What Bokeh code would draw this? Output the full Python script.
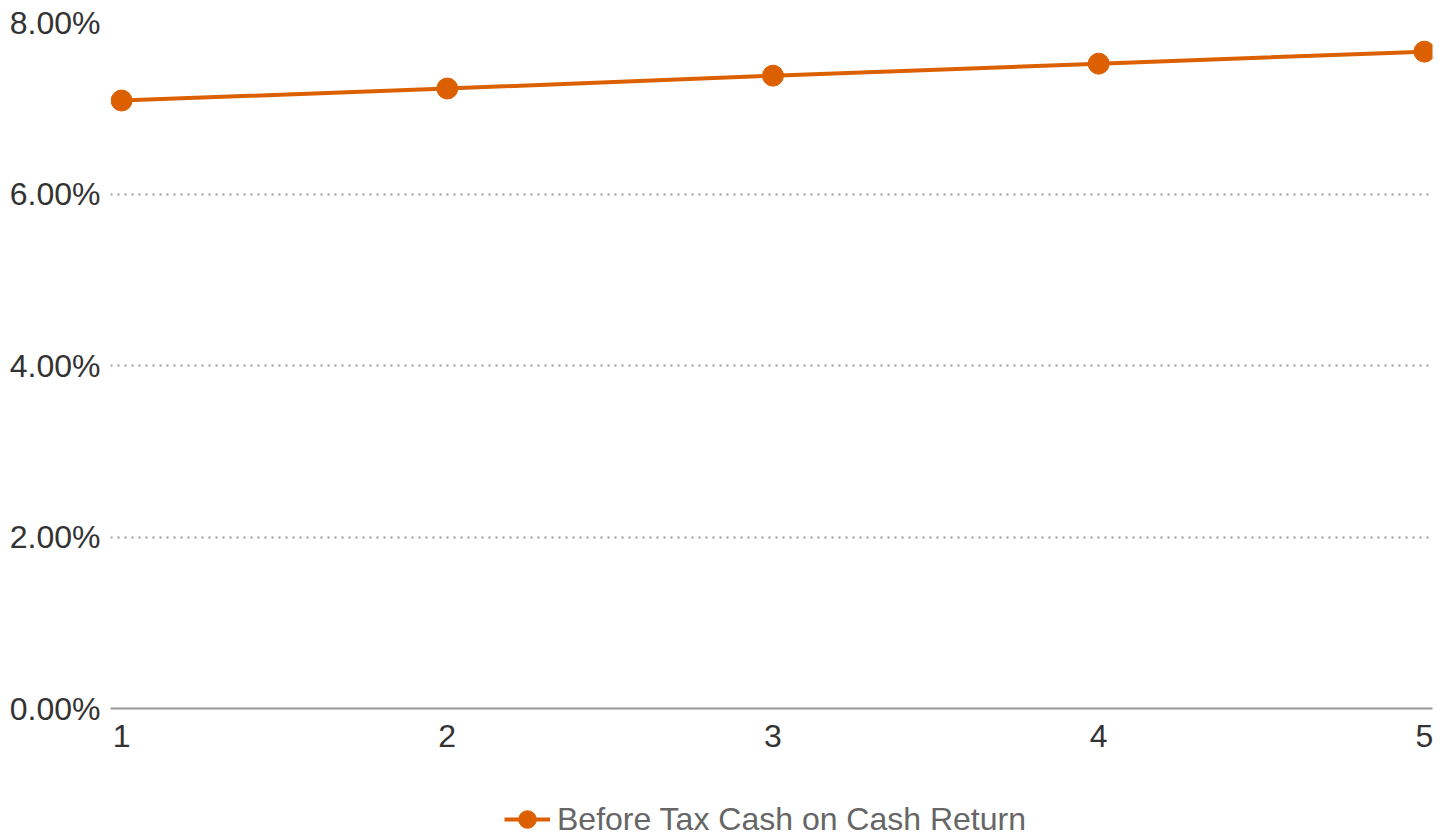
from bokeh.plotting import figure
from bokeh.layouts import column
from bokeh.models import Legend, LegendItem, NumeralTickFormatter, FixedTicker, Range1d
from bokeh.embed import file_html
from bokeh.resources import INLINE

years = [1, 2, 3, 4, 5]
returns = [0.0709, 0.0723, 0.0738, 0.0752, 0.0766]
y_ticks = [0.0, 0.02, 0.04, 0.06, 0.08]
series_name = "Before Tax Cash on Cash Return"

ORANGE = "#dc6000"
FONT = "Liberation Sans"

# main chart
p = figure(width=1447, height=770, output_backend="svg", toolbar_location=None,
           x_range=Range1d(0.966, 5.025), y_range=Range1d(0, 0.08))
p.min_border_left = 110
p.min_border_right = 15
p.min_border_top = 22
p.min_border_bottom = 62
p.outline_line_color = None
p.background_fill_color = "white"

p.line(years, returns, line_color=ORANGE, line_width=4)
p.scatter(years, returns, size=21, fill_color=ORANGE, line_color=ORANGE)

p.yaxis.ticker = FixedTicker(ticks=y_ticks)
p.yaxis.formatter = NumeralTickFormatter(format="0.00%")
p.yaxis.axis_line_color = None
p.yaxis.major_tick_line_color = None
p.yaxis.minor_tick_line_color = None
p.yaxis.major_tick_out = 0
p.yaxis.major_label_standoff = 10
p.yaxis.major_label_text_font = FONT
p.yaxis.major_label_text_font_size = "32px"
p.yaxis.major_label_text_color = "#333333"

p.xaxis.ticker = FixedTicker(ticks=years)
p.xaxis.axis_line_color = "#999999"
p.xaxis.axis_line_width = 2
p.xaxis.major_tick_line_color = None
p.xaxis.minor_tick_line_color = None
p.xaxis.major_label_standoff = 10
p.xaxis.major_label_text_font = FONT
p.xaxis.major_label_text_font_size = "32px"
p.xaxis.major_label_text_color = "#333333"

p.xgrid.grid_line_color = None
p.ygrid.grid_line_color = "#999999"
p.ygrid.grid_line_width = 2
p.ygrid.grid_line_dash = "2 5"

# legend strip below the chart (series drawn off-range, only its legend shows)
lg = figure(width=1447, height=68, output_backend="svg", toolbar_location=None,
            x_range=Range1d(0.966, 5.025), y_range=Range1d(1, 2),
            x_axis_type=None, y_axis_type=None)
lg.min_border_left = 110
lg.min_border_right = 15
lg.min_border_top = 0
lg.min_border_bottom = 0
lg.outline_line_color = None
lg.xgrid.grid_line_color = None
lg.ygrid.grid_line_color = None
k_line = lg.line(years, returns, line_color=ORANGE, line_width=4)
k_pts = lg.scatter(years, returns, size=21, fill_color=ORANGE, line_color=ORANGE)

legend = Legend(items=[LegendItem(label=series_name, renderers=[k_line, k_pts])],
                orientation="horizontal", location=(394, -3),
                label_text_font=FONT, label_text_font_size="32px",
                label_text_color="#666666", border_line_color=None,
                background_fill_alpha=0,
                glyph_width=46, glyph_height=44, margin=0, padding=0,
                label_standoff=7)
lg.add_layout(legend)

layout = column(p, lg, spacing=0)
open("out.html", "w").write(file_html(layout, INLINE))
